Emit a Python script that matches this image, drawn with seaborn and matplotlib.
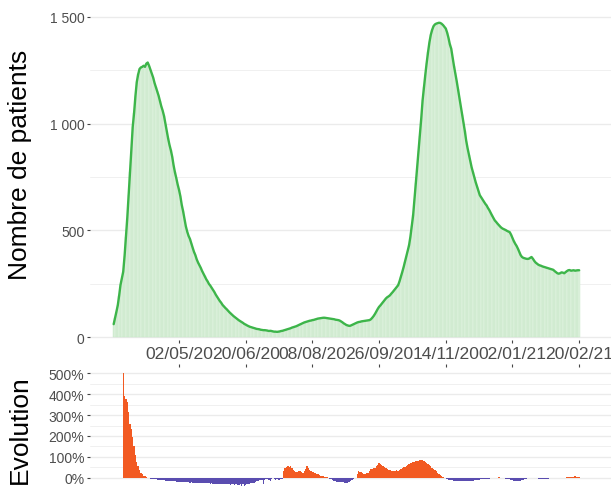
import numpy as np
import pandas as pd
import matplotlib
matplotlib.use("Agg")
import matplotlib.pyplot as plt
import matplotlib.dates as mdates
from matplotlib.ticker import FuncFormatter, MultipleLocator
import seaborn as sns

# daily number of patients, from 15/03/2020
start = "2020-03-15"
patients = [
    62, 90, 120, 150, 195, 245, 275, 307, 380, 470,
    560, 665, 773, 870, 985, 1050, 1130, 1195, 1230, 1255,
    1262, 1265, 1270, 1265, 1280, 1285, 1270, 1252, 1235, 1215,
    1190, 1170, 1150, 1130, 1105, 1080, 1060, 1035, 1000, 965,
    930, 900, 875, 845, 805, 772, 745, 715, 690, 660,
    620, 590, 555, 520, 495, 475, 461, 440, 420, 400,
    385, 365, 350, 338, 325, 310, 298, 285, 272, 262,
    250, 242, 232, 222, 212, 200, 190, 180, 170, 162,
    152, 145, 138, 132, 125, 118, 112, 106, 100, 95,
    90, 85, 80, 76, 72, 68, 63, 60, 56, 53,
    50, 48, 46, 44, 42, 40, 39, 38, 36, 35,
    34, 34, 33, 32, 30, 31, 30, 28, 27, 27,
    26, 27, 28, 30, 31, 33, 35, 37, 39, 41,
    43, 46, 48, 50, 52, 55, 58, 61, 64, 67,
    70, 72, 74, 76, 78, 79, 81, 82, 84, 86,
    88, 89, 90, 91, 92, 92, 91, 90, 89, 88,
    87, 86, 85, 83, 82, 81, 79, 75, 71, 66,
    62, 58, 56, 54, 55, 58, 61, 64, 67, 70,
    72, 73, 75, 76, 77, 78, 79, 80, 81, 85,
    92, 100, 110, 122, 133, 143, 150, 158, 166, 174,
    182, 188, 192, 197, 205, 212, 220, 228, 236, 244,
    262, 283, 305, 328, 353, 378, 405, 430, 470, 520,
    570, 645, 720, 790, 870, 943, 1025, 1110, 1170, 1230,
    1285, 1335, 1380, 1415, 1438, 1455, 1463, 1467, 1469, 1471,
    1470, 1466, 1460, 1452, 1444, 1425, 1400, 1370, 1350, 1310,
    1270, 1235, 1199, 1160, 1120, 1080, 1040, 1005, 965, 920,
    885, 855, 825, 795, 772, 750, 725, 705, 685, 665,
    655, 645, 635, 625, 617, 605, 595, 582, 570, 558,
    547, 540, 532, 525, 518, 512, 508, 505, 502, 498,
    495, 492, 480, 465, 450, 438, 428, 415, 400, 385,
    376, 372, 370, 368, 367, 368, 372, 376, 368, 358,
    350, 345, 340, 337, 335, 332, 330, 328, 326, 324,
    322, 320, 318, 316, 310, 305, 300, 298, 300, 304,
    303, 300, 305, 310, 314, 315, 312, 313, 314, 312,
    313, 314, 314,
]

# weekly evolution in %, starting on the 8th day
evolution = [
    500, 390, 375, 365, 315, 255, 235, 195, 150, 110,
    75, 55, 38, 22, 15, 10, 6, 3, 0, -3,
    -5, -6, -7, -8, -9, -10, -11, -12, -12, -13,
    -13, -14, -14, -15, -16, -16, -17, -18, -18, -19,
    -19, -20, -20, -21, -21, -22, -22, -23, -23, -24,
    -23, -24, -25, -24, -25, -26, -25, -26, -27, -26,
    -27, -28, -27, -28, -29, -28, -29, -30, -29, -30,
    -31, -30, -29, -31, -30, -32, -31, -33, -32, -34,
    -33, -32, -35, -33, -36, -34, -32, -38, -33, -40,
    -35, -33, -31, -30, -28, -26, -24, -20, -18, -14,
    -12, -10, -11, -30, -12, -8, -5, -12, -18, -8,
    -3, -6, -10, -8, -12, -10, -9, -6, 30, 45,
    52, 55, 50, 54, 48, 35, 30, 25, 28, 32,
    30, 25, 20, 32, 40, 55, 48, 35, 30, 28,
    25, 22, 18, 15, 12, 10, 8, 6, 4, 2,
    1, -2, -5, -8, -12, -15, -17, -19, -20, -21,
    -21, -22, -23, -24, -25, -24, -20, -15, -10, -6,
    -2, 0, 15, 30, 28, 25, 20, 15, 18, 20,
    22, 30, 40, 42, 45, 48, 55, 62, 70, 65,
    60, 55, 50, 45, 42, 38, 35, 33, 30, 30,
    32, 35, 34, 38, 42, 46, 50, 52, 58, 62,
    65, 68, 72, 75, 76, 78, 80, 82, 83, 85,
    86, 80, 75, 70, 65, 60, 55, 48, 40, 35,
    30, 24, 18, 12, 8, 4, 0, -4, -8, -10,
    -11, -12, -13, -14, -15, -15, -16, -16, -17, -17,
    -17, -17, -16, -16, -16, -15, -15, -14, -13, -12,
    -11, -10, -10, -9, -8, -8, -7, -6, -5, -5,
    -4, -4, -3, -2, -1, 0, 1, -1, -2, -3,
    -4, -5, -6, -7, -8, -10, -12, -14, -16, -18,
    -18, -17, -15, -12, -10, -8, -6, -4, -2, -1,
    0, -1, -2, -3, -4, -5, -6, -7, -6, -5,
    -7, -6, -5, -4, -3, -2, -1, 0, -1, -2,
    -2, -2, -1, -2, -1, 0, 1, 2, 3, 4,
    5, 5, 6, 5, 4, 3,
]

tick_dates = ["2020-05-02", "2020-06-20", "2020-08-08", "2020-09-26",
              "2020-11-14", "2021-01-02", "2021-02-20"]

dates = pd.date_range(start, periods=len(patients), freq="D")
x_all = mdates.date2num(dates)
x_evo = x_all[len(patients) - len(evolution):]
evo = np.array(evolution)
sens = np.where(evo >= 0, "hausse", "baisse")

sns.set_theme(style="white")
plt.rcParams["font.family"] = ["Liberation Sans", "DejaVu Sans"]

W, H = 611, 489
fig = plt.figure(figsize=(W / 100, H / 100), dpi=100)
ax1 = fig.add_axes([90 / W, 1 - 341 / H, 521 / W, 335 / H])
ax2 = fig.add_axes([90 / W, 0, 521 / W, 121 / H])

# top panel: bars + line
sns.barplot(x=x_all, y=patients, native_scale=True, width=1, color="#dff2df",
            edgecolor="#c6e8c6", linewidth=0.3, saturation=1, errorbar=None, ax=ax1)
sns.lineplot(x=x_all, y=patients, color="#3db54a", linewidth=1.7, ax=ax1)

# bottom panel: evolution
sns.barplot(x=x_evo, y=evo, hue=sens, palette={"hausse": "#f25a22", "baisse": "#5a4db0"},
            native_scale=True, width=1, dodge=False, saturation=1, errorbar=None,
            linewidth=0, legend=False, ax=ax2)

xmin = x_all[0] - 17.4
xmax = x_all[0] + 365.4
ticks = mdates.date2num(pd.to_datetime(tick_dates))

for ax in (ax1, ax2):
    ax.set_xlim(xmin, xmax)
    ax.set_xticks(ticks)
    for s in ax.spines.values():
        s.set_visible(False)
    ax.set_axisbelow(True)
    ax.grid(False)
    ax.yaxis.grid(True, which="major", color="#ebebeb", linewidth=1.0)
    ax.yaxis.grid(True, which="minor", color="#f0f0f0", linewidth=0.7)
    ax.set_xlabel("")
    ax.set_ylabel("")
    ax.tick_params(axis="both", which="major", length=2.5, width=0.8,
                   color="#444444", labelcolor="#4d4d4d", pad=1.5)
    ax.tick_params(axis="y", which="major", left=True, labelsize=10)
    ax.tick_params(which="minor", length=0)

ax1.set_ylim(-12, 1554)
ax1.yaxis.set_major_locator(MultipleLocator(500))
ax1.yaxis.set_minor_locator(MultipleLocator(250))
ax1.yaxis.set_major_formatter(FuncFormatter(lambda v, p: f"{int(v):,}".replace(",", " ")))
ax1.xaxis.set_major_formatter(mdates.DateFormatter("%d/%m/%y"))
ax1.tick_params(axis="x", bottom=True, labelsize=12.6)

ax2.set_ylim(-50, 531)
ax2.yaxis.set_major_locator(MultipleLocator(100))
ax2.yaxis.set_minor_locator(MultipleLocator(50))
ax2.yaxis.set_major_formatter(FuncFormatter(lambda v, p: f"{int(v)}%"))
ax2.tick_params(axis="x", bottom=False, top=True, labelbottom=False, labeltop=False)

fig.text(20 / W, 1 - 165 / H, "Nombre de patients", rotation=90, ha="center",
         va="center", fontsize=19, color="black")
fig.text(20 / W, 1 - 430 / H, "Evolution", rotation=90, ha="center",
         va="center", fontsize=19, color="black")

fig.savefig("out.png", dpi=100)
